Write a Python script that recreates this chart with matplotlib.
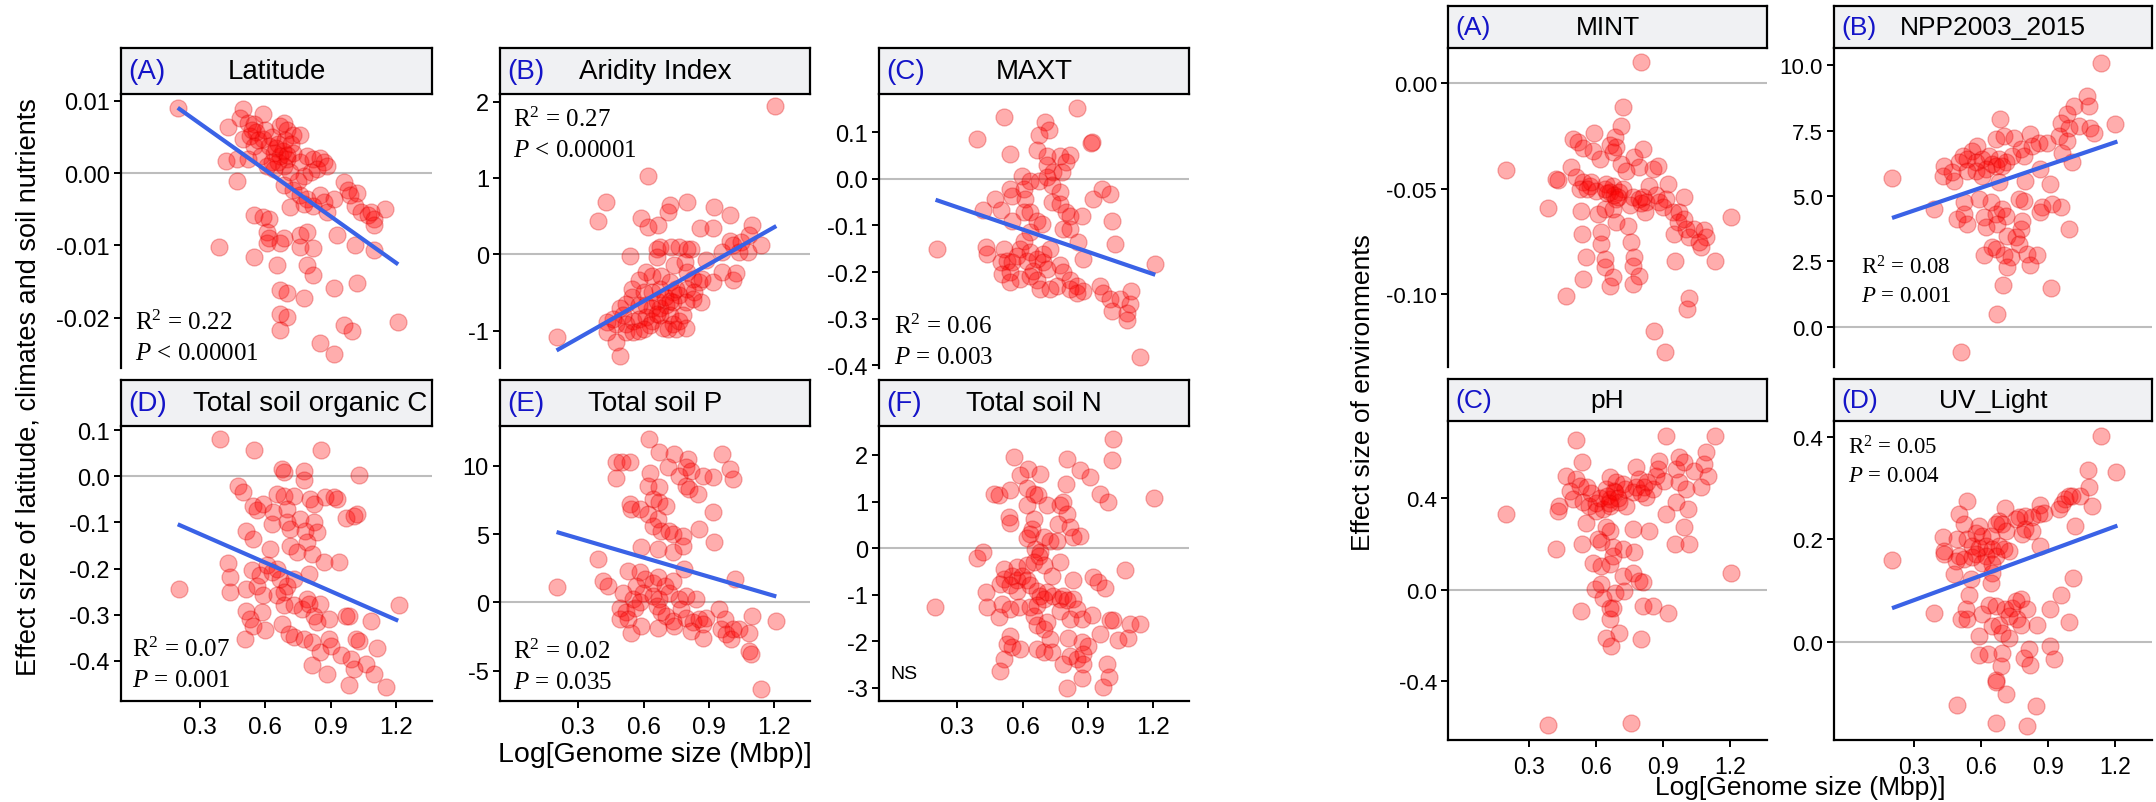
import matplotlib
matplotlib.use("Agg")
import matplotlib.pyplot as plt

plt.rcParams['font.family'] = ['Liberation Sans', 'DejaVu Sans']
plt.rcParams['axes.unicode_minus'] = False
plt.rcParams['mathtext.fontset'] = 'custom'
plt.rcParams['mathtext.rm'] = 'Liberation Serif'
plt.rcParams['mathtext.it'] = 'Liberation Serif:italic'

W, H = 2156, 803

# ---- latitude / climate / soil nutrients ----
lat_x = [0.20, 0.43, 0.50, 0.485, 0.52, 0.55, 0.59, 0.56, 0.53, 0.50, 0.55, 0.59, 0.62, 0.67, 0.685,
         0.70, 0.73, 0.76, 0.64, 0.67, 0.70, 0.73, 0.685, 0.64, 0.61, 0.58, 0.52, 0.47, 0.42, 0.47,
         0.76, 0.79, 0.82, 0.85, 0.87, 0.885, 0.84, 0.81, 0.78, 0.715, 0.75, 0.685, 0.73, 0.76, 0.79,
         0.85, 0.87, 0.915, 0.96, 0.98, 0.99, 1.02, 1.01, 1.04, 1.07, 1.10, 1.10, 1.15, 1.085, 0.82,
         0.78, 0.715, 0.885, 0.55, 0.59, 0.62, 0.61, 0.62, 0.61, 0.67, 0.685, 0.76, 0.79, 0.76, 0.82,
         0.93, 1.01, 1.10, 0.39, 0.55, 0.655, 0.79, 0.82, 0.915, 1.02, 0.67, 0.70, 0.777, 0.67, 0.70,
         0.67, 0.96, 1.00, 0.854, 0.915, 1.21, 0.66, 0.68, 0.65, 0.69, 0.63, 0.57, 0.60, 0.54, 0.72,
         0.66, 0.70, 0.63]
lat_y = [0.0090, 0.0064, 0.0088, 0.0076, 0.0069, 0.0067, 0.0081, 0.0056, 0.0051, 0.0047, 0.0037, 0.0047,
         0.0037, 0.0065, 0.0069, 0.0060, 0.0053, 0.0053, 0.0028, 0.0024, 0.0019, 0.0028, 0.0010, 0.0006,
         0.0010, 0.0024, 0.0019, 0.0019, 0.0017, -0.0011, 0.0015, 0.0024, 0.0019, 0.0021, 0.0015, 0.0010,
         0.0006, 0.0001, -0.0004, 0.0001, -0.0011, -0.0017, -0.0024, -0.0031, -0.0036, -0.0031, -0.0040,
         -0.0036, -0.0013, -0.0024, -0.0031, -0.0027, -0.0045, -0.0054, -0.0058, -0.0063, -0.0072, -0.0049,
         -0.0054, -0.0045, -0.0043, -0.0047, -0.0054, -0.0058, -0.0061, -0.0063, -0.0081, -0.0090, -0.0097,
         -0.0097, -0.0090, -0.0086, -0.0081, -0.0102, -0.0104, -0.0086, -0.0100, -0.0106, -0.0102, -0.0116,
         -0.0127, -0.0127, -0.0141, -0.0159, -0.0152, -0.0161, -0.0166, -0.0173, -0.0195, -0.0198, -0.0216,
         -0.0209, -0.0218, -0.0234, -0.0250, -0.0205, 0.0040, 0.0030, 0.0035, 0.0045, 0.0050, 0.0045,
         0.0060, 0.0060, 0.0040, 0.0015, 0.0025, 0.0015]

arid_x = [0.20, 1.204, 0.62, 0.425, 0.39, 0.59, 0.62, 0.666, 0.72, 0.71, 0.80, 0.86, 0.92, 0.925, 0.995,
          1.10, 1.085, 1.14, 0.995, 0.96, 1.01, 1.05, 1.08, 1.04, 0.537, 0.66, 0.674, 0.727, 0.765, 0.80,
          0.82, 0.74, 0.79, 0.66, 0.887, 0.61, 0.58, 0.64, 0.68, 0.72, 0.80, 0.826, 0.857, 0.87, 0.92,
          0.96, 1.01, 1.025, 0.545, 0.545, 0.60, 0.64, 0.674, 0.735, 0.765, 0.80, 0.834, 0.864, 0.826,
          0.795, 0.735, 0.704, 0.674, 0.64, 0.61, 0.58, 0.52, 0.49, 0.506, 0.46, 0.43, 0.475, 0.52, 0.55,
          0.58, 0.61, 0.64, 0.674, 0.72, 0.735, 0.71, 0.75, 0.765, 0.795, 0.78, 0.52, 0.55, 0.58, 0.43,
          0.475, 0.49, 0.63, 0.60, 0.69, 0.66, 0.70, 0.72, 0.75, 0.66]
arid_y = [-1.09, 1.94, 1.02, 0.69, 0.43, 0.47, 0.36, 0.38, 0.65, 0.56, 0.69, 0.34, 0.35, 0.62, 0.51, 0.39,
          0.25, 0.12, 0.18, 0.03, 0.12, 0.16, 0.03, 0.03, -0.02, 0.07, 0.10, 0.10, 0.10, 0.07, 0.07, -0.14,
          -0.10, -0.04, -0.08, -0.23, -0.34, -0.28, -0.28, -0.36, -0.23, -0.32, -0.36, -0.32, -0.36, -0.23,
          -0.34, -0.25, -0.45, -0.56, -0.50, -0.50, -0.45, -0.50, -0.54, -0.45, -0.50, -0.63, -0.58, -0.63,
          -0.63, -0.67, -0.71, -0.71, -0.67, -0.67, -0.65, -0.71, -0.80, -0.85, -0.89, -0.91, -0.91, -0.87,
          -0.85, -0.82, -0.87, -0.80, -0.80, -0.91, -0.98, -0.98, -0.87, -0.96, -0.80, -1.02, -1.02, -1.00,
          -1.02, -1.15, -1.33, -0.93, -0.98, -0.96, -0.61, -0.56, -0.61, -0.45, -0.78]

maxt_x = [0.206, 0.39, 0.513, 0.544, 0.85, 0.704, 0.72, 0.674, 0.918, 0.915, 0.666, 0.71, 0.773, 0.818,
          0.80, 0.71, 0.742, 0.78, 0.597, 0.635, 0.674, 0.71, 0.544, 0.551, 0.605, 0.613, 0.475, 0.50,
          0.42, 0.735, 0.773, 0.735, 0.773, 0.80, 0.818, 0.872, 0.963, 1.00, 0.925, 0.605, 0.635, 0.666,
          0.69, 0.551, 0.635, 0.788, 0.818, 0.856, 1.013, 1.024, 0.43, 0.437, 0.513, 0.605, 0.59, 0.635,
          0.696, 0.728, 0.88, 0.50, 0.528, 0.551, 0.574, 0.62, 0.666, 0.696, 0.773, 0.788, 0.506, 0.544,
          0.59, 0.65, 0.666, 0.68, 0.728, 0.758, 0.818, 0.85, 0.88, 0.85, 0.818, 0.955, 0.97, 1.00, 1.01,
          1.048, 1.093, 1.10, 1.08, 1.08, 1.14, 1.21, 0.544, 0.635, 0.71]
maxt_y = [-0.150, 0.086, 0.133, 0.054, 0.152, 0.122, 0.104, 0.093, 0.079, 0.077, 0.061, 0.050, 0.050,
          0.052, 0.036, 0.029, 0.014, 0.014, 0.007, -0.004, -0.004, 0.004, -0.021, -0.036, -0.021, -0.043,
          -0.043, -0.068, -0.068, -0.014, -0.029, -0.050, -0.054, -0.072, -0.079, -0.079, -0.021, -0.032,
          -0.043, -0.072, -0.072, -0.090, -0.097, -0.090, -0.115, -0.107, -0.107, -0.136, -0.090, -0.140,
          -0.147, -0.161, -0.150, -0.133, -0.150, -0.158, -0.161, -0.150, -0.172, -0.179, -0.176, -0.179,
          -0.165, -0.176, -0.172, -0.179, -0.186, -0.201, -0.204, -0.201, -0.215, -0.197, -0.218, -0.236,
          -0.236, -0.229, -0.218, -0.229, -0.240, -0.244, -0.236, -0.229, -0.244, -0.258, -0.283, -0.258,
          -0.269, -0.240, -0.287, -0.304, -0.383, -0.183, -0.222, -0.208, -0.193]

soc_x = [0.208, 0.395, 0.549, 0.857, 0.677, 0.685, 0.78, 0.777, 1.03, 0.477, 0.50, 0.654, 0.685, 0.731,
         0.546, 0.562, 0.592, 0.638, 0.70, 0.808, 0.823, 0.877, 0.915, 0.931, 0.969, 1.008, 1.023, 0.63,
         0.70, 0.715, 0.762, 0.823, 0.838, 0.785, 0.515, 0.546, 0.623, 0.715, 0.746, 0.792, 0.815, 0.869,
         0.938, 0.431, 0.438, 0.438, 0.515, 0.538, 0.562, 0.577, 0.608, 0.63, 0.654, 0.669, 0.70, 0.731,
         0.685, 0.654, 0.685, 0.731, 0.792, 0.80, 0.769, 0.854, 0.80, 0.592, 0.515, 0.585, 0.531, 0.546,
         0.60, 0.508, 0.677, 0.708, 0.731, 0.823, 0.838, 0.892, 0.777, 0.815, 0.854, 0.892, 0.90, 0.969,
         0.985, 1.085, 1.215, 1.015, 1.031, 1.115, 0.946, 0.992, 1.008, 1.062, 1.10, 0.815, 0.885, 0.985,
         1.154]
soc_y = [-0.245, 0.081, 0.057, 0.057, 0.016, 0.009, 0.012, -0.009, 0.003, -0.022, -0.033, -0.038, -0.042,
         -0.043, -0.064, -0.074, -0.060, -0.078, -0.071, -0.049, -0.060, -0.045, -0.045, -0.049, -0.091,
         -0.085, -0.082, -0.103, -0.100, -0.114, -0.092, -0.100, -0.121, -0.118, -0.118, -0.136, -0.157,
         -0.150, -0.165, -0.143, -0.168, -0.186, -0.185, -0.188, -0.219, -0.251, -0.244, -0.204, -0.237,
         -0.215, -0.193, -0.208, -0.201, -0.222, -0.237, -0.222, -0.251, -0.258, -0.280, -0.280, -0.266,
         -0.277, -0.287, -0.277, -0.212, -0.258, -0.291, -0.295, -0.309, -0.324, -0.334, -0.352, -0.320,
         -0.342, -0.349, -0.302, -0.316, -0.309, -0.352, -0.360, -0.381, -0.352, -0.367, -0.302, -0.302,
         -0.313, -0.280, -0.352, -0.356, -0.373, -0.388, -0.396, -0.417, -0.406, -0.428, -0.410, -0.428,
         -0.452, -0.457]

soilp_x = [0.20, 0.39, 0.625, 0.475, 0.503, 0.536, 0.475, 0.628, 0.67, 0.742, 0.712, 0.803, 0.795, 0.818,
           0.765, 0.872, 0.918, 0.96, 0.995, 1.01, 0.62, 0.673, 0.795, 0.81, 0.85, 0.536, 0.643, 0.673,
           0.704, 0.544, 0.582, 0.62, 0.666, 0.918, 0.643, 0.68, 0.719, 0.735, 0.78, 0.857, 0.925, 0.59,
           0.666, 0.735, 0.78, 0.788, 0.53, 0.582, 0.605, 0.643, 0.666, 0.697, 0.735, 1.02, 0.415, 0.438,
           0.567, 0.597, 0.506, 0.551, 0.582, 0.643, 0.673, 0.719, 0.765, 0.795, 0.84, 0.49, 0.52, 0.559,
           0.49, 0.528, 0.66, 0.68, 0.704, 0.735, 0.772, 0.795, 0.826, 0.857, 0.887, 0.872, 0.818, 0.872,
           0.742, 0.666, 0.59, 0.544, 0.948, 0.972, 0.956, 0.979, 1.00, 1.01, 1.04, 1.085, 1.10, 1.21,
           1.085, 1.093, 1.14]
soilp_y = [1.10, 3.17, 11.95, 10.24, 10.24, 10.24, 9.07, 9.46, 10.98, 10.85, 9.88, 10.49, 9.88, 9.63, 9.27,
           9.27, 9.15, 10.85, 9.76, 9.02, 8.54, 8.41, 8.54, 8.29, 7.93, 7.20, 7.56, 7.32, 7.07, 6.83, 6.83,
           6.46, 6.10, 6.59, 5.61, 5.24, 5.24, 5.00, 4.88, 5.37, 4.39, 4.02, 3.90, 3.66, 4.15, 2.44, 2.32,
           2.20, 1.71, 1.46, 1.83, 1.22, 1.59, 1.71, 1.59, 1.22, 1.22, 0.73, 0.73, 0.24, 0.00, 0.49, 0.24,
           0.73, 0.24, 0.49, 0.24, -0.37, -0.73, -0.37, -1.22, -1.22, -0.24, -0.73, -0.98, -1.34, -0.49,
           -1.10, -1.46, -1.22, -1.10, -1.59, -2.07, -2.56, -1.71, -1.83, -1.71, -2.20, -0.49, -1.22,
           -1.95, -2.32, -2.68, -1.95, -1.95, -2.20, -0.98, -1.34, -3.54, -3.78, -6.29]

soiln_x = [0.198, 1.017, 1.009, 0.559, 0.806, 0.864, 0.91, 0.623, 0.678, 0.59, 0.80, 0.467, 0.49, 0.544,
           0.62, 0.654, 0.673, 0.955, 0.993, 1.203, 0.62, 0.712, 0.773, 0.788, 0.803, 0.765, 0.536, 0.544,
           0.651, 0.643, 0.635, 0.62, 0.818, 0.864, 0.834, 0.697, 0.727, 0.757, 0.658, 0.68, 0.39, 0.42,
           0.674, 0.773, 1.07, 0.513, 0.574, 0.62, 0.651, 0.697, 0.735, 0.925, 0.948, 0.978, 0.834, 0.513,
           0.551, 0.574, 0.597, 0.62, 0.498, 0.544, 0.574, 0.635, 0.666, 0.681, 0.712, 0.697, 0.742, 0.773,
           0.788, 0.803, 0.834, 0.43, 0.437, 0.49, 0.506, 0.544, 0.582, 0.635, 0.651, 0.666, 0.773, 0.85,
           0.818, 0.872, 0.918, 0.666, 0.712, 0.697, 0.727, 1.00, 1.017, 1.093, 1.14, 0.955, 1.04, 1.086,
           0.81, 0.872, 0.903, 0.544, 0.528, 0.551, 0.59, 0.513, 0.498, 0.666, 0.697, 0.735, 0.818, 0.85,
           0.88, 0.788, 0.88, 0.872, 0.986, 0.999, 0.969, 0.806]
soiln_y = [-1.27, 2.34, 1.88, 1.96, 1.92, 1.67, 1.53, 1.70, 1.60, 1.56, 1.38, 1.17, 1.13, 1.24, 1.28, 1.17,
           1.13, 1.17, 0.99, 1.07, 0.92, 0.92, 0.92, 0.99, 0.74, 0.52, 0.67, 0.54, 0.63, 0.42, 0.31, 0.21,
           0.45, 0.27, 0.24, 0.24, 0.16, 0.16, -0.01, -0.09, -0.21, -0.09, -0.16, -0.29, -0.46, -0.44,
           -0.41, -0.37, -0.30, -0.37, -0.59, -0.62, -0.73, -0.86, -0.69, -0.66, -0.59, -0.69, -0.59, -0.69,
           -0.77, -0.80, -0.91, -0.80, -0.91, -1.02, -0.95, -1.09, -1.02, -1.09, -1.02, -1.12, -1.09, -0.95,
           -1.27, -1.48, -1.20, -1.30, -1.27, -1.27, -1.45, -1.23, -1.34, -1.30, -1.52, -1.52, -1.43, -1.66,
           -1.59, -1.73, -1.95, -1.55, -1.55, -1.63, -1.63, -1.84, -1.98, -1.93, -1.93, -2.02, -2.09, -1.88,
           -2.06, -2.13, -2.16, -2.38, -2.63, -2.16, -2.23, -2.23, -2.31, -2.38, -2.27, -2.49, -2.49, -2.79,
           -2.49, -2.77, -2.97, -3.01]

# ---- environments ----
mint_x = [0.197, 0.80, 0.72, 0.713, 0.59, 0.498, 0.52, 0.544, 0.587, 0.617, 0.662, 0.677, 0.684, 0.691,
          0.713, 0.736, 0.773, 0.795, 0.813, 0.855, 0.877, 0.49, 0.424, 0.432, 0.513, 0.544, 0.574, 0.528,
          0.602, 0.647, 0.662, 0.677, 0.706, 0.72, 0.691, 0.765, 0.795, 0.825, 0.84, 0.87, 0.884, 0.922,
          0.914, 0.996, 0.386, 0.535, 0.61, 0.64, 0.677, 0.751, 0.818, 0.90, 0.944, 0.974, 0.966, 0.996,
          1.204, 0.691, 0.743, 0.951, 1.004, 1.018, 1.04, 1.085, 1.093, 1.07, 1.063, 1.134, 0.956, 0.538,
          0.625, 0.625, 0.758, 0.557, 0.64, 0.64, 0.773, 0.765, 0.795, 0.677, 0.662, 0.765, 0.542, 0.468,
          1.016, 1.007, 0.862, 0.911, 0.65, 0.68, 0.70, 0.64, 0.80, 0.81, 0.58, 0.56]
mint_y = [-0.0410, 0.0100, -0.0114, -0.0206, -0.0236, -0.0264, -0.0280, -0.0310, -0.0320, -0.0359,
          -0.0296, -0.0328, -0.0256, -0.0304, -0.0383, -0.0415, -0.0351, -0.0399, -0.0312, -0.0407,
          -0.0391, -0.0399, -0.0454, -0.0462, -0.0446, -0.0470, -0.0486, -0.0502, -0.0510, -0.0478,
          -0.0517, -0.0486, -0.0517, -0.0502, -0.0549, -0.0541, -0.0549, -0.0565, -0.0486, -0.0533,
          -0.0565, -0.0478, -0.0549, -0.0541, -0.0593, -0.0608, -0.0620, -0.0597, -0.0597, -0.0580,
          -0.0612, -0.0589, -0.0612, -0.0612, -0.0660, -0.0644, -0.0636, -0.0660, -0.0676, -0.0715,
          -0.0691, -0.0731, -0.0691, -0.0699, -0.0731, -0.0778, -0.0755, -0.0842, -0.0842, -0.0715,
          -0.0707, -0.0763, -0.0755, -0.0826, -0.0834, -0.0873, -0.0826, -0.0865, -0.0913, -0.0921,
          -0.0960, -0.0953, -0.0929, -0.1008, -0.1020, -0.1071, -0.1177, -0.1277, -0.0520, -0.0530,
          -0.0540, -0.0500, -0.0570, -0.0540, -0.0470, -0.0500]

npp_x = [0.20, 1.136, 1.20, 1.074, 1.081, 1.014, 0.985, 0.955, 0.992, 1.037, 1.088, 1.103, 0.947, 0.985,
         0.962, 1.006, 0.684, 0.665, 0.70, 0.746, 0.82, 0.858, 0.895, 0.828, 0.776, 0.79, 0.739, 0.582,
         0.56, 0.516, 0.501, 0.538, 0.575, 0.605, 0.635, 0.65, 0.68, 0.71, 0.695, 0.665, 0.62, 0.575,
         0.538, 0.434, 0.427, 0.479, 0.471, 0.605, 0.68, 0.865, 0.797, 0.91, 0.389, 0.523, 0.59, 0.642,
         0.769, 0.79, 0.872, 0.918, 0.955, 0.865, 0.493, 0.523, 0.538, 0.612, 0.62, 0.665, 0.695, 0.71,
         0.672, 0.784, 0.776, 0.995, 0.716, 0.754, 0.769, 0.65, 0.665, 0.612, 0.70, 0.731, 0.716, 0.806,
         0.85, 0.82, 0.699, 0.913, 0.669, 0.511]
npp_y = [5.70, 10.09, 7.74, 8.82, 8.44, 8.44, 8.12, 7.80, 7.61, 7.68, 7.61, 7.42, 7.30, 7.11, 6.66, 6.28,
         7.93, 7.17, 7.30, 7.23, 7.36, 7.04, 7.04, 6.92, 6.79, 6.54, 6.54, 6.92, 6.73, 6.54, 6.28, 6.41,
         6.28, 6.41, 6.54, 6.22, 6.41, 6.28, 6.15, 6.15, 6.03, 5.96, 5.96, 6.15, 5.77, 5.58, 5.90, 5.77,
         5.52, 6.03, 5.58, 5.46, 4.51, 4.76, 4.89, 4.76, 4.89, 4.82, 4.57, 4.70, 4.57, 4.38, 4.12, 4.31,
         3.93, 4.19, 3.81, 4.31, 4.51, 4.25, 3.93, 4.06, 3.74, 3.74, 3.49, 3.43, 3.17, 3.05, 2.98, 2.73,
         2.73, 2.66, 2.28, 2.79, 2.73, 2.35, 1.59, 1.48, 0.51, -0.95]

ph_x = [0.197, 0.386, 0.758, 0.51, 0.914, 1.134, 0.54, 0.468, 0.513, 0.528, 0.483, 0.498, 0.438, 0.431,
        0.542, 0.572, 0.602, 0.632, 0.662, 0.647, 0.662, 0.691, 0.721, 0.684, 0.706, 0.662, 0.736, 0.765,
        0.78, 0.795, 0.817, 0.825, 0.855, 0.87, 0.884, 0.877, 0.906, 0.959, 0.974, 0.996, 0.974, 1.004,
        1.04, 1.07, 1.085, 1.093, 1.10, 0.959, 0.914, 1.011, 0.996, 0.557, 0.647, 0.662, 0.765, 0.84,
        0.956, 1.018, 0.424, 0.54, 0.61, 0.625, 0.677, 0.721, 0.773, 0.587, 0.625, 0.662, 0.677, 0.721,
        0.765, 0.795, 0.81, 1.204, 0.595, 0.625, 0.632, 0.684, 0.728, 0.535, 0.662, 0.677, 0.662, 0.81,
        0.855, 0.922, 0.706, 0.647, 0.669, 0.80, 0.60, 0.62, 0.65, 0.68, 0.70, 0.66, 0.58, 0.56, 0.73,
        0.78, 0.80, 0.83]
ph_y = [0.330, -0.594, -0.582, 0.655, 0.673, 0.670, 0.559, 0.495, 0.483, 0.454, 0.432, 0.396, 0.366, 0.345,
        0.381, 0.366, 0.345, 0.352, 0.396, 0.439, 0.491, 0.469, 0.461, 0.425, 0.381, 0.366, 0.366, 0.425,
        0.534, 0.483, 0.447, 0.403, 0.439, 0.498, 0.564, 0.527, 0.476, 0.527, 0.578, 0.556, 0.469, 0.439,
        0.520, 0.447, 0.549, 0.600, 0.498, 0.381, 0.330, 0.352, 0.272, 0.293, 0.272, 0.257, 0.264, 0.257,
        0.199, 0.199, 0.177, 0.199, 0.220, 0.206, 0.184, 0.177, 0.165, 0.118, 0.104, 0.111, 0.147, 0.060,
        0.074, 0.038, 0.031, 0.072, 0.001, 0.023, -0.035, -0.013, -0.006, -0.096, -0.079, -0.079, -0.130,
        -0.074, -0.072, -0.101, -0.188, -0.210, -0.247, -0.218, 0.380, 0.400, 0.410, 0.430, 0.400, 0.380,
        0.420, 0.450, 0.440, 0.450, 0.420, 0.470]

uv_x = [0.20, 1.136, 1.204, 1.078, 1.081, 1.096, 1.021, 1.006, 0.977, 0.962, 0.947, 1.044, 0.992, 0.538,
        0.705, 0.865, 0.88, 0.858, 0.828, 0.798, 0.769, 0.754, 0.68, 0.665, 0.695, 0.50, 0.523, 0.59,
        0.575, 0.605, 0.642, 0.71, 0.784, 0.798, 0.828, 0.427, 0.493, 0.538, 0.56, 0.59, 0.62, 0.65,
        0.68, 0.703, 0.724, 0.665, 0.62, 0.575, 0.56, 0.501, 0.434, 0.434, 0.486, 0.523, 0.605, 0.65,
        0.865, 0.479, 0.553, 0.65, 0.642, 1.01, 0.955, 0.545, 0.389, 0.53, 0.508, 0.538, 0.605, 0.635,
        0.665, 0.705, 0.724, 0.739, 0.754, 0.776, 0.806, 0.761, 0.776, 0.65, 0.68, 0.695, 0.724, 0.59,
        0.85, 0.91, 0.995, 0.91, 0.925, 0.59, 0.628, 0.695, 0.687, 0.813, 0.79, 0.82, 0.665, 0.668,
        0.712, 0.489, 0.843, 0.668, 0.806]
uv_y = [0.160, 0.402, 0.332, 0.335, 0.303, 0.265, 0.226, 0.284, 0.278, 0.269, 0.259, 0.285, 0.285, 0.275,
        0.262, 0.267, 0.252, 0.249, 0.243, 0.246, 0.243, 0.239, 0.236, 0.230, 0.230, 0.249, 0.230, 0.226,
        0.213, 0.207, 0.207, 0.217, 0.210, 0.220, 0.217, 0.204, 0.200, 0.200, 0.187, 0.184, 0.187, 0.181,
        0.187, 0.181, 0.178, 0.168, 0.168, 0.171, 0.165, 0.168, 0.178, 0.171, 0.158, 0.161, 0.155, 0.152,
        0.187, 0.132, 0.122, 0.135, 0.116, 0.124, 0.091, 0.091, 0.057, 0.064, 0.044, 0.044, 0.054, 0.073,
        0.070, 0.064, 0.051, 0.067, 0.080, 0.083, 0.064, 0.044, 0.034, 0.031, 0.034, 0.018, 0.008, 0.012,
        0.034, 0.064, 0.039, -0.007, -0.033, -0.026, -0.024, -0.022, -0.047, -0.014, -0.031, -0.044,
        -0.074, -0.078, -0.102, -0.123, -0.125, -0.157, -0.163]

# fitted lines, values at the two ends of fit_x
fit_x = [0.20, 1.21]
lat_fit = [0.0090, -0.0126]
arid_fit = [-1.26, 0.37]
maxt_fit = [-0.045, -0.206]
soc_fit = [-0.104, -0.313]
soilp_fit = [5.15, 0.44]
npp_fit = [4.16, 7.08]
uv_fit = [0.066, 0.227]

x_ticks = [0.3, 0.6, 0.9, 1.2]
x_ticklabels = ['0.3', '0.6', '0.9', '1.2']

BLUE_TAG = '#1414c8'
FIT_BLUE = '#3a62e6'


def frac(x0, y0, x1, y1):
    return [x0 / W, 1 - y1 / H, (x1 - x0) / W, (y1 - y0) / H]


def panel(fig, box, strip_top, tag, title, xs, ys, ylim, yticks, ylabels,
          fit=None, bottom=False, fs_tick=17, fs_strip=20, title_pos=None):
    x0, y0, x1, y1 = box
    ax = fig.add_axes(frac(x0, y0, x1, y1))
    ax.axhline(0, color='#bdbdbd', lw=1.5, zorder=1)
    ax.scatter(xs, ys, s=150, facecolor=(1, 0, 0, 0.32), edgecolor=(0.85, 0, 0, 0.3),
               linewidth=0.9, zorder=3)
    if fit is not None:
        ax.plot(fit_x, fit, color=FIT_BLUE, lw=3, zorder=4, solid_capstyle='butt')
    ax.set_xlim(-0.06, 1.365)
    ax.set_ylim(*ylim)
    ax.set_yticks(yticks)
    ax.set_yticklabels(ylabels)
    for s in ['top', 'right']:
        ax.spines[s].set_visible(False)
    ax.spines['left'].set_linewidth(1.6)
    ax.spines['bottom'].set_linewidth(1.6)
    ax.tick_params(axis='y', length=5, width=1.4, labelsize=fs_tick, pad=3, colors='black')
    if bottom:
        ax.set_xticks(x_ticks)
        ax.set_xticklabels(x_ticklabels)
        ax.tick_params(axis='x', length=5, width=1.4, labelsize=fs_tick + 0.5, pad=6)
    else:
        ax.spines['bottom'].set_visible(False)
        ax.set_xticks([])

    # facet strip
    st = fig.add_axes(frac(x0, strip_top, x1, y0))
    st.set_facecolor('#f0f1f3')
    st.set_xticks([])
    st.set_yticks([])
    for s in st.spines.values():
        s.set_linewidth(1.6)
    st.text(7 / (x1 - x0), 0.5, tag, color=BLUE_TAG, fontsize=fs_strip,
            ha='left', va='center', transform=st.transAxes)
    if title_pos is None:
        st.text(0.5, 0.5, title, fontsize=fs_strip, ha='center', va='center',
                transform=st.transAxes)
    else:
        st.text(title_pos, 0.5, title, fontsize=fs_strip, ha='right', va='center',
                transform=st.transAxes)
    return ax


def stats(fig, x, y, r2, p, size=18, gap=31):
    fig.text(x / W, 1 - y / H, r2, fontsize=size, family='Liberation Serif', ha='left', va='center')
    fig.text(x / W, 1 - (y + gap) / H, p, fontsize=size, family='Liberation Serif',
             ha='left', va='center')


fig = plt.figure(figsize=(W / 100, H / 100), dpi=100)

# left block
panel(fig, (121, 95, 432, 369), 49, '(A)', 'Latitude', lat_x, lat_y,
      (-0.0269, 0.0109), [-0.02, -0.01, 0.0, 0.01], ['-0.02', '-0.01', '0.00', '0.01'], fit=lat_fit)
panel(fig, (500, 95, 810, 369), 49, '(B)', 'Aridity Index', arid_x, arid_y,
      (-1.49, 2.10), [-1, 0, 1, 2], ['-1', '0', '1', '2'], fit=arid_fit)
panel(fig, (879, 95, 1189, 369), 49, '(C)', 'MAXT', maxt_x, maxt_y,
      (-0.406, 0.182), [-0.4, -0.3, -0.2, -0.1, 0.0, 0.1],
      ['-0.4', '-0.3', '-0.2', '-0.1', '0.0', '0.1'], fit=maxt_fit)
panel(fig, (121, 427, 432, 702), 381, '(D)', 'Total soil organic C', soc_x, soc_y,
      (-0.487, 0.109), [-0.4, -0.3, -0.2, -0.1, 0.0, 0.1],
      ['-0.4', '-0.3', '-0.2', '-0.1', '0.0', '0.1'], fit=soc_fit, bottom=True, title_pos=0.985)
panel(fig, (500, 427, 810, 702), 381, '(E)', 'Total soil P', soilp_x, soilp_y,
      (-7.2, 12.9), [-5, 0, 5, 10], ['-5', '0', '5', '10'], fit=soilp_fit, bottom=True)
panel(fig, (879, 427, 1189, 702), 381, '(F)', 'Total soil N', soiln_x, soiln_y,
      (-3.28, 2.62), [-3, -2, -1, 0, 1, 2], ['-3', '-2', '-1', '0', '1', '2'], bottom=True)

stats(fig, 135, 323, r'R$^2$ = 0.22', r'$\mathit{P}$ < 0.00001')
stats(fig, 513, 120, r'R$^2$ = 0.27', r'$\mathit{P}$ < 0.00001')
stats(fig, 894, 327, r'R$^2$ = 0.06', r'$\mathit{P}$ = 0.003')
stats(fig, 132, 650, r'R$^2$ = 0.07', r'$\mathit{P}$ = 0.001')
stats(fig, 513, 652, r'R$^2$ = 0.02', r'$\mathit{P}$ = 0.035')
fig.text(890 / W, 1 - 675 / H, 'NS', fontsize=14, ha='left', va='center')

fig.text(29 / W, 1 - 387 / H, 'Effect size of latitude, climates and soil nutrients',
         rotation=90, fontsize=19.5, ha='center', va='center')
fig.text(655 / W, 1 - 755 / H, 'Log[Genome size (Mbp)]', fontsize=20.5, ha='center', va='center')

# right block
panel(fig, (1448, 49, 1767, 368), 7, '(A)', 'MINT', mint_x, mint_y,
      (-0.1346, 0.0166), [-0.10, -0.05, 0.0], ['-0.10', '-0.05', '0.00'],
      fs_tick=16, fs_strip=19)
panel(fig, (1834, 49, 2152, 368), 7, '(B)', 'NPP2003_2015', npp_x, npp_y,
      (-1.53, 10.65), [0.0, 2.5, 5.0, 7.5, 10.0], ['0.0', '2.5', '5.0', '7.5', '10.0'],
      fit=npp_fit, fs_tick=16, fs_strip=19)
panel(fig, (1448, 422, 1767, 741), 380, '(C)', 'pH', ph_x, ph_y,
      (-0.658, 0.737), [-0.4, 0.0, 0.4], ['-0.4', '0.0', '0.4'],
      bottom=True, fs_tick=16, fs_strip=19)
panel(fig, (1834, 422, 2152, 741), 380, '(D)', 'UV_Light', uv_x, uv_y,
      (-0.191, 0.431), [0.0, 0.2, 0.4], ['0.0', '0.2', '0.4'],
      fit=uv_fit, bottom=True, fs_tick=16, fs_strip=19)

stats(fig, 1861, 268, r'R$^2$ = 0.08', r'$\mathit{P}$ = 0.001', size=16.5, gap=29)
stats(fig, 1848, 448, r'R$^2$ = 0.05', r'$\mathit{P}$ = 0.004', size=16.5, gap=29)

fig.text(1363 / W, 1 - 393 / H, 'Effect size of environments',
         rotation=90, fontsize=19, ha='center', va='center')
fig.text(1800 / W, 1 - 788 / H, 'Log[Genome size (Mbp)]', fontsize=19, ha='center', va='center')

fig.savefig('out.png', dpi=100, facecolor='white')
